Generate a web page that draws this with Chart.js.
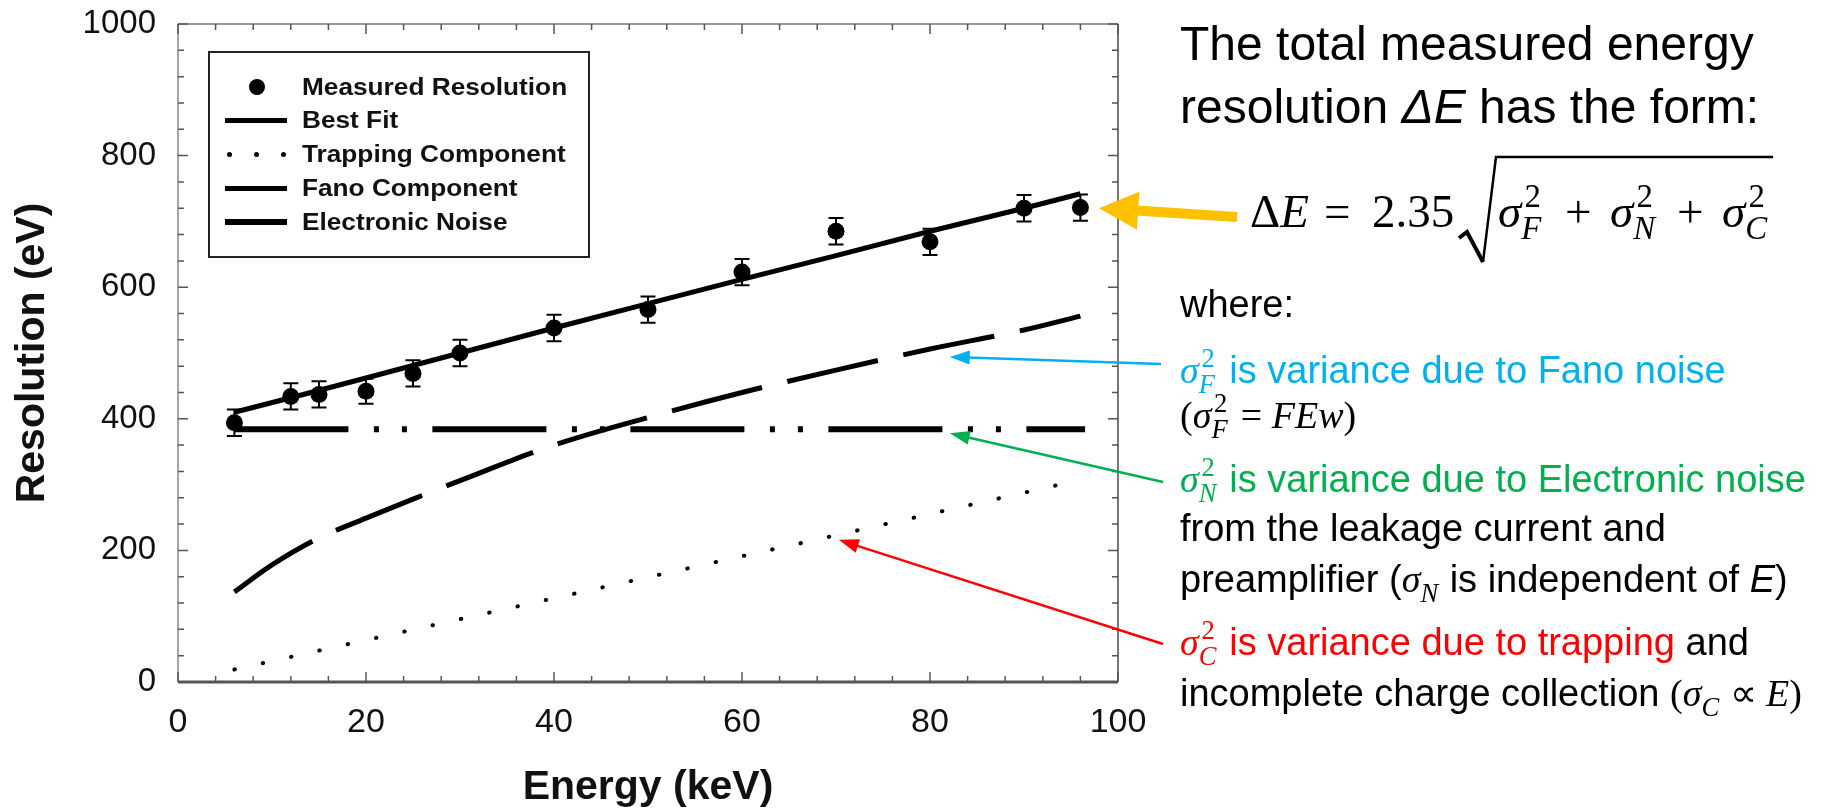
<!DOCTYPE html>
<html>
<head>
<meta charset="utf-8">
<script src="https://cdn.jsdelivr.net/npm/chart.js@4.4.1/dist/chart.umd.min.js"></script>
<style>
  html, body { margin: 0; padding: 0; background: #fff; }
  #wrap { position: relative; width: 1822px; height: 812px; overflow: hidden; font-family: 'Liberation Sans', Arial, sans-serif; }
  #chart { position: absolute; left: 0; top: 0; }
  .ln { position: absolute; white-space: nowrap; line-height: 1; color: #000; }
  .fm { position: absolute; white-space: nowrap; line-height: 1; font-family: 'Liberation Serif', serif; font-size: 47px; }
  .m { font-family: 'Liberation Serif', serif; font-style: italic; }
  .u { font-style: normal; }
  .sc { display: inline-block; position: relative; width: 0.75em; height: 0.5em; font-size: 0.7em; }
  .sc.nosup { width: 0.7em; }
  .sc .p { position: absolute; left: 0.1em; bottom: 0.42em; font-style: normal; line-height: 1; }
  .sc .b { position: absolute; left: 0; top: 0.06em; font-style: italic; line-height: 1; }
  #legend { position: absolute; left: 208px; top: 51px; width: 378px; height: 203px; border: 2px solid #222; }
  .lg { position: absolute; white-space: nowrap; line-height: 1; font-weight: bold; font-size: 23px; transform: scaleX(1.14); transform-origin: 0 0; color: #111; }
  .sym { position: absolute; background: #000; }
  #rad { position: absolute; left: 0; top: 0; }
</style>
</head>
<body>
<div id="wrap">
  <canvas id="chart" width="1822" height="812"></canvas>
  <div id="legend"></div>
  <svg id="rad" width="1822" height="812">
    <path d="M1459,238 L1467,232 L1483,262" fill="none" stroke="#000" stroke-width="4"/>
    <path d="M1483,262 L1496,157 L1773,157" fill="none" stroke="#000" stroke-width="2.5"/>
  </svg>
</div>
<script>
// measured points (keV, eV) with error bars
const energyMeasured = [6, 12, 15, 20, 25, 30, 40, 50, 60, 70, 80, 90, 96];
const resolutionMeasured = [394, 434, 437, 442, 469, 500, 538, 566, 623, 685, 669, 720, 721];
const resolutionError = [20, 20, 20, 19, 20, 20, 20, 20, 20, 20, 20, 20, 20];

// curves
const fitEnergy = [6, 12, 20, 30, 40, 50, 60, 70, 80, 90, 96];
const fitResolution = [410, 432, 462, 500, 538, 575, 612, 648, 685, 720, 742];
const trapEnergy = [6, 70, 93.5];
const trapResolution = [19, 223, 299];
const fanoEnergy = [6, 10, 15, 20, 25, 30, 40, 50, 60, 70, 80, 90, 96];
const fanoResolution = [137, 178, 219, 249, 278, 306, 360, 402, 440, 474, 506, 535, 556];
const noiseEnergy = [6, 50, 96.5];
const noiseResolution = [384, 384, 384];

const xTicks = [0, 20, 40, 60, 80, 100];
const yTicks = [0, 200, 400, 600, 800, 1000];
const seriesNames = ["Measured Resolution", "Best Fit", "Trapping Component", "Fano Component", "Electronic Noise"];

const pts = (xs, ys) => xs.map((x, i) => ({x: x, y: ys[i]}));

// frame, inward ticks, error bars and the annotation arrows
const decor = {
  id: "decor",
  beforeDatasetsDraw(chart) {
    const {ctx, scales: {x, y}} = chart;
    ctx.save();
    ctx.strokeStyle = "#000";
    ctx.lineWidth = 2;
    energyMeasured.forEach((e, i) => {
      const px = x.getPixelForValue(e);
      const top = y.getPixelForValue(resolutionMeasured[i] + resolutionError[i]);
      const bot = y.getPixelForValue(resolutionMeasured[i] - resolutionError[i]);
      ctx.beginPath();
      ctx.moveTo(px, top); ctx.lineTo(px, bot);
      ctx.moveTo(px - 7.5, top); ctx.lineTo(px + 7.5, top);
      ctx.moveTo(px - 7.5, bot); ctx.lineTo(px + 7.5, bot);
      ctx.stroke();
    });
    ctx.restore();
  },
  afterDatasetsDraw(chart) {
    const {ctx, chartArea: a, scales: {x, y}} = chart;
    ctx.save();
    ctx.strokeStyle = "#888"; ctx.lineWidth = 1.5;
    ctx.beginPath(); ctx.moveTo(a.left, a.top); ctx.lineTo(a.left, a.bottom); ctx.stroke();
    ctx.strokeStyle = "#999"; ctx.lineWidth = 2;
    ctx.beginPath(); ctx.moveTo(a.left, a.top); ctx.lineTo(a.right, a.top); ctx.stroke();
    ctx.strokeStyle = "#777";
    ctx.beginPath(); ctx.moveTo(a.right, a.top); ctx.lineTo(a.right, a.bottom); ctx.stroke();
    ctx.strokeStyle = "#555"; ctx.lineWidth = 3;
    ctx.beginPath(); ctx.moveTo(a.left, a.bottom); ctx.lineTo(a.right, a.bottom); ctx.stroke();

    ctx.strokeStyle = "#555"; ctx.lineWidth = 1.5;
    ctx.beginPath();
    for (let v = 0; v <= 100; v += 4) {
      const px = x.getPixelForValue(v);
      const len = v % 20 === 0 ? 10 : 6;
      ctx.moveTo(px, a.bottom); ctx.lineTo(px, a.bottom - len);
      ctx.moveTo(px, a.top); ctx.lineTo(px, a.top + len);
    }
    for (let v = 0; v <= 1000; v += 40) {
      const py = y.getPixelForValue(v);
      const len = v % 200 === 0 ? 10 : 6;
      ctx.moveTo(a.left, py); ctx.lineTo(a.left + len, py);
      ctx.moveTo(a.right, py); ctx.lineTo(a.right - len, py);
    }
    ctx.stroke();
    ctx.restore();
  },
  afterDraw(chart) {
    const {ctx, scales: {x, y}} = chart;
    const arrows = [
      {color: "#FFC000", from: [1237, 217], to: [98, 720], width: 10, head: 39, half: 19},
      {color: "#00B0F0", from: [1161, 364], to: [82.1, 494], width: 2.5, head: 20, half: 7},
      {color: "#00B050", from: [1163, 482], to: [82.1, 378], width: 2.5, head: 20, half: 7},
      {color: "#FF0000", from: [1163, 644], to: [70.3, 216], width: 2.5, head: 20, half: 7}
    ];
    ctx.save();
    arrows.forEach(ar => {
      const tx = x.getPixelForValue(ar.to[0]), ty = y.getPixelForValue(ar.to[1]);
      const [fx, fy] = ar.from;
      const d = Math.hypot(tx - fx, ty - fy);
      const ux = (tx - fx) / d, uy = (ty - fy) / d;
      const bx = tx - ux * ar.head, by = ty - uy * ar.head;
      ctx.strokeStyle = ar.color; ctx.fillStyle = ar.color;
      ctx.lineWidth = ar.width;
      ctx.beginPath(); ctx.moveTo(fx, fy); ctx.lineTo(bx + ux * 2, by + uy * 2); ctx.stroke();
      ctx.beginPath();
      ctx.moveTo(tx, ty);
      ctx.lineTo(bx - uy * ar.half, by + ux * ar.half);
      ctx.lineTo(bx + uy * ar.half, by - ux * ar.half);
      ctx.closePath(); ctx.fill();
    });
    ctx.restore();
  }
};

new Chart(document.getElementById("chart"), {
  type: "scatter",
  data: {
    datasets: [
      {label: seriesNames[0], data: pts(energyMeasured, resolutionMeasured), showLine: false,
       pointRadius: 8.5, backgroundColor: "#000", borderColor: "#000", borderWidth: 0},
      {label: seriesNames[1], data: pts(fitEnergy, fitResolution), showLine: true,
       pointRadius: 0, borderColor: "#000", borderWidth: 5},
      {label: seriesNames[2], data: pts(trapEnergy, trapResolution), showLine: true,
       pointRadius: 0, borderColor: "#000", borderWidth: 4, borderDash: [0.5, 28.5], borderCapStyle: "round"},
      {label: seriesNames[3], data: pts(fanoEnergy, fanoResolution), showLine: true,
       pointRadius: 0, borderColor: "#000", borderWidth: 5, borderDash: [93, 26], cubicInterpolationMode: "monotone"},
      {label: seriesNames[4], data: pts(noiseEnergy, noiseResolution), showLine: true,
       pointRadius: 0, borderColor: "#000", borderWidth: 6, borderDash: [114, 25.5, 5, 23, 5, 25.5]}
    ]
  },
  options: {
    responsive: false,
    animation: false,
    events: [],
    layout: {padding: {top: 24, right: 704, left: 0, bottom: 0}},
    plugins: {legend: {display: false}, tooltip: {enabled: false}},
    scales: {
      x: {
        type: "linear", min: 0, max: 100,
        afterFit: s => { s.height = 130; s.paddingLeft = 0; s.paddingRight = 0; },
        afterBuildTicks: s => { s.ticks = xTicks.map(v => ({value: v})); },
        grid: {display: false, drawTicks: false},
        border: {display: false},
        ticks: {font: {family: "Liberation Sans", size: 34}, color: "#111", padding: 20,
                callback: v => String(v)},
        title: {display: true, text: "Energy (keV)", color: "#111",
                font: {family: "Liberation Sans", size: 41, weight: "bold", lineHeight: 1.2},
                padding: {top: 0, bottom: 0}}
      },
      y: {
        min: 0, max: 1000,
        afterFit: s => { s.width = 178; s.paddingTop = 0; s.paddingBottom = 0; },
        afterBuildTicks: s => { s.ticks = yTicks.map(v => ({value: v})); },
        grid: {display: false, drawTicks: false},
        border: {display: false},
        ticks: {font: {family: "Liberation Sans", size: 33}, color: "#111", padding: 22,
                callback: v => String(v)},
        title: {display: true, text: "Resolution (eV)", color: "#111",
                font: {family: "Liberation Sans", size: 41, weight: "bold", lineHeight: 1.2},
                padding: {top: 8, bottom: 0}}
      }
    }
  },
  plugins: [decor]
});

// legend box
const legendRows = [87, 120, 154, 188, 222];
const wrap = document.getElementById("wrap");
function addEl(cls, style, html) {
  const d = document.createElement("div");
  d.className = cls;
  Object.assign(d.style, style);
  if (html !== undefined) d.innerHTML = html;
  wrap.appendChild(d);
  return d;
}
seriesNames.forEach((name, i) => {
  const cy = legendRows[i];
  addEl("lg", {left: "302px", top: (cy + 8.3 - 0.8465 * 23) + "px"}, name);
  if (i === 0) {
    addEl("sym", {left: "249px", top: (cy - 8) + "px", width: "16px", height: "16px", borderRadius: "50%"});
  } else if (i === 2) {
    [227, 254, 281].forEach(dx => addEl("sym", {left: dx + "px", top: (cy - 2.5) + "px", width: "5px", height: "5px", borderRadius: "50%"}));
  } else {
    const w = i === 4 ? 6 : 5;
    addEl("sym", {left: "225px", top: (cy - w / 2) + "px", width: "62px", height: w + "px"});
  }
});

// right-hand text
const S = (sub, sup) => '<span class="m">σ<span class="sc' + (sup ? '' : ' nosup') + '">' +
  (sup ? '<span class="p">' + sup + '</span>' : '') + '<span class="b">' + sub + '</span></span></span>';
const textLines = [
  {base: 61, size: 48, html: "The total measured energy"},
  {base: 124, size: 48, html: "resolution <i>ΔE</i> has the form:"},
  {base: 317, size: 38, html: "where:"},
  {base: 383, size: 38, color: "#00B0F0", html: S("F", "2") + " is variance due to Fano noise"},
  {base: 428, size: 38, html: '<span class="m"><span class="u">(</span></span>' + S("F", "2") +
     '<span class="m"> <span class="u">=</span> FEw<span class="u">)</span></span>'},
  {base: 492, size: 38, color: "#00B050", html: S("N", "2") + " is variance due to Electronic noise"},
  {base: 541, size: 38, html: "from the leakage current and"},
  {base: 592, size: 38, html: "preamplifier (" + S("N") + " is independent of <i>E</i>)"},
  {base: 655, size: 38, html: '<span style="color:#FF0000">' + S("C", "2") + " is variance due to trapping</span> and"},
  {base: 706, size: 38, html: 'incomplete charge collection <span class="m"><span class="u">(</span></span>' + S("C") +
     '<span class="m"> <span class="u">∝</span> E<span class="u">)</span></span>'}
];
textLines.forEach(t => {
  addEl("ln", {left: "1180px", top: (t.base - 0.8465 * t.size) + "px", fontSize: t.size + "px", color: t.color || "#000"}, t.html);
});

// formula pieces
const fTop = (227 - 0.8375 * 47) + "px";
[
  [1250, 'Δ<i>E</i>'], [1324, '='], [1372, '2.35'],
  [1498, S("F", "2")], [1565, '+'], [1610, S("N", "2")], [1677, '+'], [1722, S("C", "2")]
].forEach(([x, html]) => addEl("fm", {left: x + "px", top: fTop}, html));
</script>
</body>
</html>
